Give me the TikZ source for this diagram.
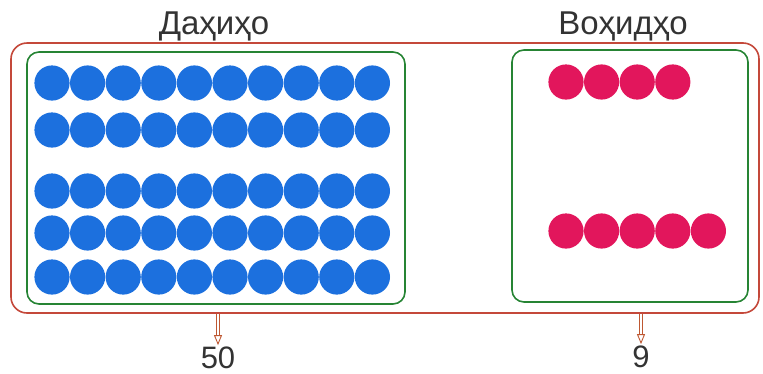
\documentclass[tikz,border=0pt]{standalone}
\usepackage{fontspec}
\setmainfont{Liberation Sans}
\usepackage{tikz}
\usetikzlibrary{arrows.meta, positioning}

\definecolor{framered}{RGB}{196,72,58}
\definecolor{boxgreen}{RGB}{38,132,52}
\definecolor{dotblue}{RGB}{28,112,222}
\definecolor{dotpink}{RGB}{226,22,92}
\definecolor{arrowbrown}{RGB}{190,88,50}

\begin{document}
\begin{tikzpicture}[
  x=1pt, y=-1pt,
  outerbox/.style={draw=framered, line width=1.6pt, rounded corners=16pt,
                   inner sep=0pt},
  groupbox/.style={draw=boxgreen, line width=1.6pt, rounded corners=12pt,
                   inner sep=0pt},
  titlelbl/.style={anchor=base, font=\fontsize{33}{38}\selectfont,
                   text=black!80},
  countlbl/.style={anchor=base, font=\fontsize{31}{35}\selectfont,
                   text=black!80, inner sep=1pt},
  pointer/.style={draw=arrowbrown, line width=0.9pt, double=white,
                  double distance=1.5pt,
                  -{Triangle[open, length=10pt, width=8pt]}}
]
\useasboundingbox (0,0) rectangle (763,373);

\def\R{17.6}
\def\dx{35.6}

% frames
\node[outerbox, minimum width=748pt, minimum height=270pt] (whole) at (385,178) {};
\node[groupbox, minimum width=378pt, minimum height=252pt] (tens)  at (216,178) {};
\node[groupbox, minimum width=236pt, minimum height=252pt] (units) at (630,176) {};

% headings
\node[titlelbl] (tenstitle)  at (214,34) {Даҳиҳо};
\node[titlelbl] (unitstitle) at (623,34) {Воҳидҳо};

% ten rows of blue dots
\foreach \yy in {83, 130, 191, 233, 277}{
  \foreach \i in {0,...,9}{
    \fill[dotblue] (52+\i*\dx, \yy) circle (\R);
  }
}

% pink dots
\foreach \i in {0,...,3}{
  \fill[dotpink] (566+\i*\dx, 82) circle (\R);
}
\foreach \i in {0,...,4}{
  \fill[dotpink] (566+\i*\dx, 231) circle (\R);
}

% totals
\node[countlbl] (lab50) at (218,368) {50};
\node[countlbl] (lab9)  at (641,367) {9};

\draw[pointer] (lab50 |- whole.south) -- (lab50.north);
\draw[pointer] (lab9 |- whole.south) -- (lab9.north);

\end{tikzpicture}
\end{document}
